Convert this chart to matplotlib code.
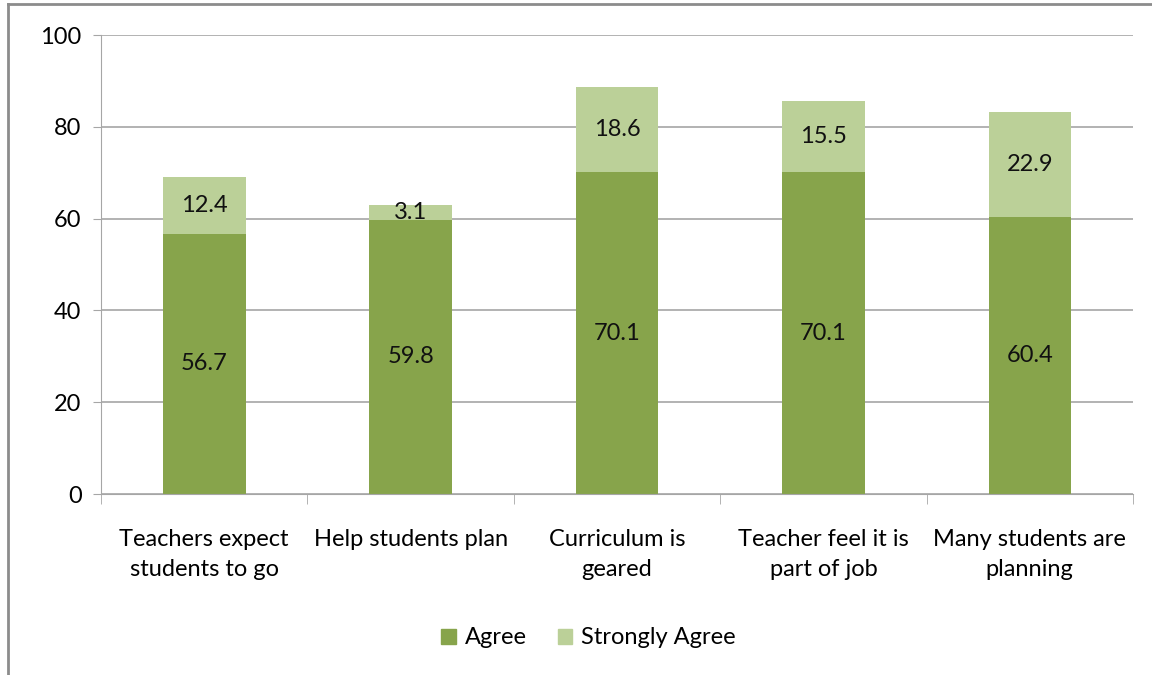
import matplotlib
matplotlib.use("Agg")
import matplotlib.pyplot as plt
from matplotlib.lines import Line2D
from matplotlib.patches import Patch
import numpy as np

plt.rcParams['font.family'] = ['Lato', 'DejaVu Sans']

categories = ["Teachers expect\nstudents to go", "Help students plan", "Curriculum is\ngeared",
              "Teacher feel it is\npart of job", "Many students are\nplanning"]
agree = [56.7, 59.8, 70.1, 70.1, 60.4]
strongly_agree = [12.4, 3.1, 18.6, 15.5, 22.9]

agree_color = "#87A44B"
strong_color = "#BBD098"
fs = 17

fig = plt.figure(figsize=(11.52, 6.75), dpi=100)
ax = fig.add_axes([0.0877, 0.2681, 0.8958, 0.6800])

x = np.arange(len(categories))
ax.bar(x, agree, width=0.4, color=agree_color, zorder=2, label="Agree")
ax.bar(x, strongly_agree, width=0.4, bottom=agree, color=strong_color, zorder=2, label="Strongly Agree")

# value labels in the middle of each segment
for i in range(len(categories)):
    ax.text(x[i], agree[i] / 2, f"{agree[i]:.1f}", ha="center", va="center", fontsize=fs, color="#111111", zorder=3)
    ax.text(x[i], agree[i] + strongly_agree[i] / 2, f"{strongly_agree[i]:.1f}", ha="center", va="center",
            fontsize=fs, color="#111111", zorder=3)

ax.set_xlim(-0.5, len(categories) - 0.5)
ax.set_ylim(0, 100)
ax.set_yticks(range(0, 101, 20))
ax.yaxis.grid(True, color="#A6A6A6", linewidth=1.2, zorder=0)
ax.set_axisbelow(True)

for s in ["top", "right"]:
    ax.spines[s].set_visible(False)
ax.spines["left"].set_color("#A6A6A6")
ax.spines["bottom"].set_color("#A6A6A6")

ax.set_xticks(x)
ax.set_xticklabels(categories, fontsize=fs, linespacing=1.55)
ax.tick_params(axis="x", length=0, pad=25)
ax.set_xticks(np.arange(-0.5, len(categories)), minor=True)
ax.tick_params(axis="x", which="minor", length=7, color="#A6A6A6")
ax.tick_params(axis="y", length=6, color="#A6A6A6", labelsize=fs, pad=8)

handles = [Patch(color=agree_color, label="Agree"), Patch(color=strong_color, label="Strongly Agree")]
fig.legend(handles=handles, loc="center", bbox_to_anchor=(0.511, 0.055), ncol=2, frameon=False,
           fontsize=fs, handlelength=0.6, handleheight=0.6, columnspacing=1.3, handletextpad=0.4)

# chart frame lines (left and top)
fig.add_artist(Line2D([8 / 1152, 8 / 1152], [0, 1 - 4 / 675], color="#8C8C8C", linewidth=2))
fig.add_artist(Line2D([8 / 1152, 1], [1 - 4 / 675, 1 - 4 / 675], color="#8C8C8C", linewidth=2))

fig.savefig("out.png", dpi=100)
